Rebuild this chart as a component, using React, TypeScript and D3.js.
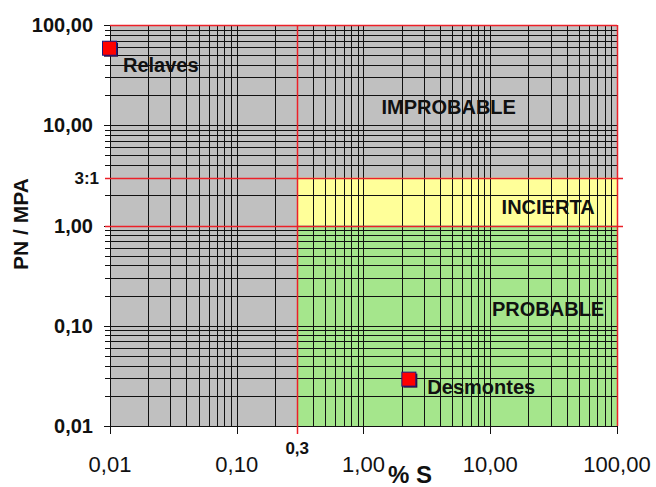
import React, { useEffect, useRef } from 'react'
import * as d3 from 'd3'

// axis ticks (log scale)
const xTickValues = [0.01, 0.1, 1, 10, 100]
const xTickLabels = ['0,01', '0,10', '1,00', '10,00', '100,00']
const yTickValues = [0.01, 0.1, 1, 10, 100]
const yTickLabels = ['0,01', '0,10', '1,00', '10,00', '100,00']

// zone limits
const sLimit = 0.3
const ratioLow = 1
const ratioHigh = 3

// zones: name, label anchor in data units
const zoneNames = ['IMPROBABLE', 'INCIERTA', 'PROBABLE']
const zoneLabelS = [4.7, 28.6, 28.6]
const zoneLabelPN = [12.9, 1.3, 0.125]

// samples
const sampleNames = ['Relaves', 'Desmontes']
const sampleS = [0.01, 2.3]
const samplePN = [58, 0.029]

const W = 656
const H = 487
const FONT = 'Liberation Sans, Arial, sans-serif'

const App = () => {
  const ref = useRef<SVGSVGElement>(null)

  useEffect(() => {
    const svg = d3.select(ref.current)
    svg.selectAll('*').remove()

    const left = 110, right = 617, top = 25, bottom = 426

    const x = d3.scaleLog().domain([0.01, 100]).range([left, right])
    const y = d3.scaleLog().domain([0.01, 100]).range([bottom, top])
    const px = (v: number) => Math.round(x(v)) + 0.5
    const py = (v: number) => Math.round(y(v)) + 0.5

    // background zones
    svg.append('rect')
      .attr('x', left).attr('y', top)
      .attr('width', right - left).attr('height', bottom - top)
      .attr('fill', '#c0c0c0')
    svg.append('rect')
      .attr('x', x(sLimit)).attr('y', y(ratioHigh))
      .attr('width', right - x(sLimit)).attr('height', y(ratioLow) - y(ratioHigh))
      .attr('fill', '#ffff99')
    svg.append('rect')
      .attr('x', x(sLimit)).attr('y', y(ratioLow))
      .attr('width', right - x(sLimit)).attr('height', bottom - y(ratioLow))
      .attr('fill', '#a5e68c')

    // grid lines
    const grid = svg.append('g').attr('stroke', '#111').attr('stroke-width', 1)
    grid.selectAll('line.v')
      .data(x.ticks())
      .join('line')
        .attr('class', 'v')
        .attr('x1', d => px(d))
        .attr('x2', d => px(d))
        .attr('y1', top)
        .attr('y2', d => xTickValues.includes(+d.toPrecision(3)) ? bottom + 8 : bottom)
    grid.selectAll('line.h')
      .data(y.ticks())
      .join('line')
        .attr('class', 'h')
        .attr('x1', d => yTickValues.includes(+d.toPrecision(3)) ? left - 6 : left - 5)
        .attr('x2', right)
        .attr('y1', d => py(d))
        .attr('y2', d => py(d))

    // axis lines
    svg.append('line')
      .attr('x1', left + 0.5).attr('x2', left + 0.5)
      .attr('y1', top).attr('y2', bottom + 8)
      .attr('stroke', '#111')
    svg.append('line')
      .attr('x1', left).attr('x2', right)
      .attr('y1', bottom + 0.5).attr('y2', bottom + 0.5)
      .attr('stroke', '#111')

    // red limit lines
    const red = svg.append('g').attr('stroke', '#ec2028').attr('stroke-width', 1.5)
    red.append('line')
      .attr('x1', left).attr('x2', right)
      .attr('y1', py(100)).attr('y2', py(100))
    red.append('line')
      .attr('x1', px(100)).attr('x2', px(100))
      .attr('y1', top).attr('y2', bottom)
    red.append('line')
      .attr('x1', px(sLimit)).attr('x2', px(sLimit))
      .attr('y1', top).attr('y2', bottom + 8)
    red.selectAll('line.lim')
      .data([ratioHigh, ratioLow])
      .join('line')
        .attr('class', 'lim')
        .attr('x1', left - 5).attr('x2', right + 6)
        .attr('y1', d => py(d)).attr('y2', d => py(d))

    // y tick labels
    svg.append('g')
      .selectAll('text')
      .data(yTickValues)
      .join('text')
        .attr('x', 93)
        .attr('y', d => y(d))
        .attr('dy', '0.36em')
        .attr('text-anchor', 'end')
        .attr('font-family', FONT)
        .attr('font-weight', 'bold')
        .attr('font-size', 20)
        .attr('fill', '#111')
        .text((d, i) => yTickLabels[i])
    svg.append('text')
      .attr('x', 99).attr('y', y(ratioHigh)).attr('dy', '0.36em')
      .attr('text-anchor', 'end')
      .attr('font-family', FONT).attr('font-weight', 'bold').attr('font-size', 17)
      .attr('fill', '#111')
      .text('3:1')

    // x tick labels
    svg.append('g')
      .selectAll('text')
      .data(xTickValues)
      .join('text')
        .attr('x', d => x(d))
        .attr('y', 472)
        .attr('text-anchor', 'middle')
        .attr('font-family', FONT)
        .attr('font-size', 22)
        .attr('fill', '#111')
        .text((d, i) => xTickLabels[i])
    svg.append('text')
      .attr('x', x(sLimit)).attr('y', 454)
      .attr('text-anchor', 'middle')
      .attr('font-family', FONT).attr('font-weight', 'bold').attr('font-size', 17)
      .attr('fill', '#111')
      .text('0,3')

    // axis titles
    svg.append('text')
      .attr('x', 388).attr('y', 483)
      .attr('font-family', FONT).attr('font-weight', 'bold').attr('font-size', 24)
      .attr('fill', '#111')
      .text('% S')
    svg.append('text')
      .attr('transform', 'translate(28,224) rotate(-90)')
      .attr('text-anchor', 'middle')
      .attr('font-family', FONT).attr('font-weight', 'bold').attr('font-size', 21)
      .attr('fill', '#111')
      .text('PN / MPA')

    // zone labels
    svg.append('g')
      .selectAll('text')
      .data(zoneNames)
      .join('text')
        .attr('x', (d, i) => x(zoneLabelS[i]))
        .attr('y', (d, i) => y(zoneLabelPN[i]))
        .attr('text-anchor', 'middle')
        .attr('font-family', FONT)
        .attr('font-weight', 'bold')
        .attr('font-size', 20)
        .attr('fill', '#111')
        .text(d => d)

    // sample markers
    const pts = svg.append('g')
      .selectAll('g')
      .data(sampleNames)
      .join('g')
        .attr('transform', (d, i) => `translate(${x(sampleS[i])},${y(samplePN[i])})`)
    pts.append('rect')
      .attr('x', -6).attr('y', -6).attr('width', 14).attr('height', 14)
      .attr('fill', '#2a0a3a')
    pts.append('rect')
      .attr('x', -7.5).attr('y', -7.5).attr('width', 14).attr('height', 14)
      .attr('fill', '#ff0000')
      .attr('stroke', '#1a1a80')
      .attr('stroke-width', 1)
    pts.append('text')
      .attr('x', (d, i) => i === 0 ? 13 : 18)
      .attr('y', (d, i) => i === 0 ? 23 : 14)
      .attr('font-family', FONT)
      .attr('font-weight', 'bold')
      .attr('font-size', 20)
      .attr('fill', '#111')
      .text(d => d)
  }, [])

  return (
    <svg
      ref={ref}
      width={W}
      height={H}
      style={{ position: 'absolute', left: 0, top: 0, background: '#fff' }}
    />
  )
}

export default App
